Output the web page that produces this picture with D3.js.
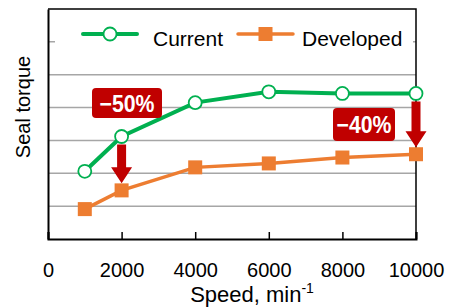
<!DOCTYPE html>
<html>
<head>
<meta charset="utf-8">
<script src="https://cdn.jsdelivr.net/npm/d3@7"></script>
<style>
  body { margin: 0; background: #fff; }
  svg { display: block; font-family: "Liberation Sans", Arial, sans-serif; }
</style>
</head>
<body>
<div id="chart"></div>
<script>
// data (torque in arbitrary grid units)
const speeds = [1000, 2000, 4000, 6000, 8000, 10000];
const current = [2.06, 3.12, 4.15, 4.48, 4.43, 4.43];
const developed = [0.91, 1.48, 2.18, 2.30, 2.48, 2.58];
const xTicks = [0, 2000, 4000, 6000, 8000, 10000];
const yGrid = [1, 2, 3, 4, 5, 6];
const callouts = [
    { speed: 2000, label: "\u221250%" },
    { speed: 10000, label: "\u221240%" }
];

const width = 449;
const height = 308;
const margin = { top: 9, right: 33, bottom: 69, left: 48 };

const green = "#00b050";
const orange = "#ed7d31";
const red = "#c00000";

const svg = d3.select("#chart")
    .append("svg")
    .attr("width", width)
    .attr("height", height);

const x = d3.scaleLinear()
    .domain([0, 10000])
    .range([margin.left, width - margin.right]);

const y = d3.scaleLinear()
    .domain([0, 7])
    .range([height - margin.bottom, margin.top]);

// gridlines
svg.append("g")
    .selectAll("line")
    .data(yGrid)
    .join("line")
    .attr("x1", x(0))
    .attr("x2", x(10000))
    .attr("y1", d => y(d))
    .attr("y2", d => y(d))
    .attr("stroke", "#a6a6a6")
    .attr("stroke-width", 1.5);

// frame (top and right)
svg.append("path")
    .attr("d", `M${x(0)},${y(7)}H${x(10000)}V${y(0)}`)
    .attr("fill", "none")
    .attr("stroke", "#000")
    .attr("stroke-width", 1.5);

// x axis
const xAxis = d3.axisBottom(x)
    .tickValues(xTicks)
    .tickSize(-7)
    .tickPadding(24)
    .tickFormat(d3.format("d"));

const gx = svg.append("g")
    .attr("transform", `translate(0,${y(0)})`)
    .call(xAxis);
gx.select(".domain").attr("stroke-width", 2);
gx.selectAll(".tick line").attr("stroke-width", 1.5);
gx.selectAll(".tick text")
    .attr("font-size", 20)
    .attr("font-family", "Liberation Sans, Arial, sans-serif")
    .attr("fill", "#000");

// y axis (no labels)
const gy = svg.append("g")
    .attr("transform", `translate(${x(0)},0)`)
    .call(d3.axisLeft(y).tickValues([]).tickSizeOuter(0));
gy.select(".domain").attr("stroke-width", 2);

// legend box covers the top gridline
svg.append("rect")
    .attr("x", 55)
    .attr("y", 20)
    .attr("width", 358)
    .attr("height", 40)
    .attr("fill", "#fff");

// lines
const line = d3.line()
    .x((d, i) => x(speeds[i]))
    .y(d => y(d));

svg.append("path")
    .datum(developed)
    .attr("d", line)
    .attr("fill", "none")
    .attr("stroke", orange)
    .attr("stroke-width", 3.5);

svg.append("path")
    .datum(current)
    .attr("d", line)
    .attr("fill", "none")
    .attr("stroke", green)
    .attr("stroke-width", 4);

svg.append("g")
    .selectAll("rect")
    .data(developed)
    .join("rect")
    .attr("x", (d, i) => x(speeds[i]) - 7)
    .attr("y", d => y(d) - 7)
    .attr("width", 14)
    .attr("height", 14)
    .attr("fill", orange);

svg.append("g")
    .selectAll("circle")
    .data(current)
    .join("circle")
    .attr("cx", (d, i) => x(speeds[i]))
    .attr("cy", d => y(d))
    .attr("r", 6.5)
    .attr("fill", "#fff")
    .attr("stroke", green)
    .attr("stroke-width", 1.8);

// reduction arrows
callouts.forEach(c => {
    const i = speeds.indexOf(c.speed);
    const cx = x(c.speed);
    const top = y(current[i]) + 8;
    const tip = y(developed[i]) - 7;
    const headTop = tip - 16;
    svg.append("path")
        .attr("d", `M${cx - 4.5},${top}H${cx + 4.5}V${headTop}H${cx + 10.5}L${cx},${tip}L${cx - 10.5},${headTop}H${cx - 4.5}Z`)
        .attr("fill", red);
});

// callout labels
const labelBoxes = [
    { x: 92, y: 88, w: 70, h: 30 },
    { x: 333, y: 108, w: 62, h: 33 }
];
callouts.forEach((c, k) => {
    const b = labelBoxes[k];
    svg.append("rect")
        .attr("x", b.x)
        .attr("y", b.y)
        .attr("width", b.w)
        .attr("height", b.h)
        .attr("rx", 4)
        .attr("fill", red);
    svg.append("text")
        .attr("x", b.x + b.w / 2)
        .attr("y", b.y + b.h / 2 + 8.5)
        .attr("text-anchor", "middle")
        .attr("font-size", 24)
        .attr("font-weight", "bold")
        .attr("fill", "#fff")
        .attr("textLength", 55)
        .attr("lengthAdjust", "spacingAndGlyphs")
        .text(c.label);
});

// legend
const legend = [
    { name: "Current", color: green, x1: 83, x2: 137, tx: 153, mark: "circle" },
    { name: "Developed", color: orange, x1: 238, x2: 293, tx: 302, mark: "square" }
];
legend.forEach(l => {
    const g = svg.append("g");
    const ly = 34;
    g.append("line")
        .attr("x1", l.x1).attr("x2", l.x2)
        .attr("y1", ly).attr("y2", ly)
        .attr("stroke", l.color)
        .attr("stroke-width", l.mark === "circle" ? 4 : 3.5)
        .attr("stroke-linecap", "round");
    const mx = (l.x1 + l.x2) / 2;
    if (l.mark === "circle") {
        g.append("circle")
            .attr("cx", mx).attr("cy", ly).attr("r", 6.5)
            .attr("fill", "#fff").attr("stroke", l.color).attr("stroke-width", 1.8);
    } else {
        g.append("rect")
            .attr("x", mx - 7).attr("y", ly - 7)
            .attr("width", 14).attr("height", 14)
            .attr("fill", l.color);
    }
    g.append("text")
        .attr("x", l.tx)
        .attr("y", ly + 12)
        .attr("font-size", 21)
        .attr("fill", "#000")
        .text(l.name);
});

// axis titles
const xTitle = svg.append("text")
    .attr("x", 252)
    .attr("y", 302)
    .attr("text-anchor", "middle")
    .attr("font-size", 22)
    .attr("fill", "#000");
xTitle.append("tspan").text("Speed, min");
xTitle.append("tspan")
    .attr("font-size", 14)
    .attr("dy", -9)
    .text("-1");

svg.append("text")
    .attr("transform", "rotate(-90)")
    .attr("x", -107)
    .attr("y", 30)
    .attr("text-anchor", "middle")
    .attr("font-size", 20)
    .attr("fill", "#000")
    .text("Seal torque");
</script>
</body>
</html>
